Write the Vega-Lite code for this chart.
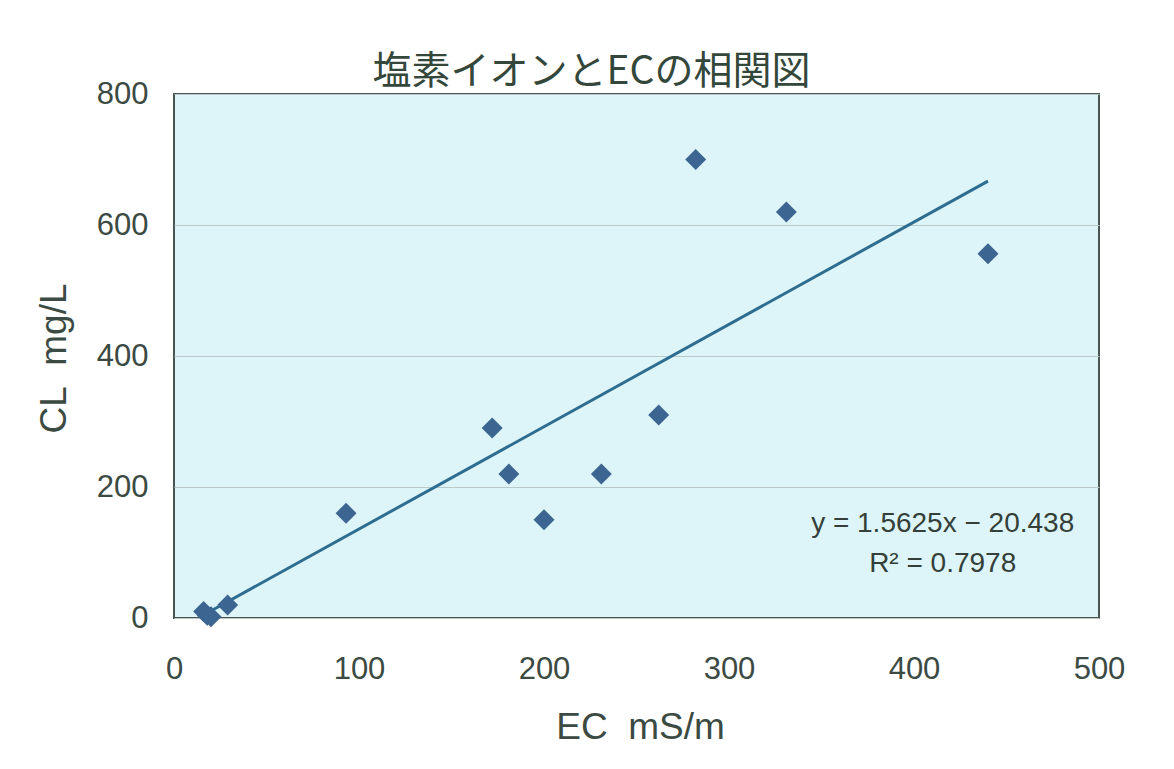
{
  "$schema": "https://vega.github.io/schema/vega-lite/v6.json",
  "autosize": "none",
  "width": 925,
  "height": 524,
  "padding": {"left": 174, "top": 94, "right": 75, "bottom": 151},
  "background": "#ffffff",
  "config": {
    "view": {"fill": "#ddf5f8", "stroke": "#4a5550", "strokeWidth": 2},
    "font": "Liberation Sans"
  },
  "title": {
    "text": "塩素イオンとECの相関図",
    "font": "Noto Sans CJK JP",
    "fontSize": 39,
    "fontWeight": "normal",
    "color": "#34473b",
    "anchor": "middle",
    "frame": "group",
    "dx": -45,
    "dy": 56,
    "offset": 3,
    "baseline": "bottom"
  },
  "layer": [
    {
      "data": {"values": [
        {"EC": 16, "CL": 4.56},
        {"EC": 440, "CL": 667.06}
      ]},
      "mark": {"type": "line", "color": "#2e6d90", "strokeWidth": 3},
      "encoding": {
        "x": {
          "field": "EC", "type": "quantitative",
          "scale": {"domain": [0, 500], "nice": false},
          "axis": {
            "title": "EC\u00a0\u00a0mS/m",
            "values": [0, 100, 200, 300, 400, 500],
            "grid": false,
            "ticks": false,
            "domain": false,
            "labelFont": "Liberation Sans",
            "labelFontSize": 31,
            "labelColor": "#3b4a42",
            "labelPadding": 36,
            "labelFlush": false,
            "labelOverlap": false,
            "titleFont": "Liberation Sans",
            "titleFontSize": 37,
            "titleFontWeight": "normal",
            "titleColor": "#3b4a42",
            "titleBaseline": "alphabetic",
            "titleY": 120,
            "titleX": 466
          }
        },
        "y": {
          "field": "CL", "type": "quantitative",
          "scale": {"domain": [0, 800], "nice": false},
          "axis": {
            "title": "CL\u00a0\u00a0mg/L",
            "values": [0, 200, 400, 600, 800],
            "grid": true,
            "gridColor": "#b9c9c9",
            "gridWidth": 1.2,
            "ticks": false,
            "domain": false,
            "labelFont": "Liberation Sans",
            "labelFontSize": 31,
            "labelColor": "#3b4a42",
            "labelPadding": 26,
            "labelFlush": false,
            "labelOverlap": false,
            "titleFont": "Liberation Sans",
            "titleFontSize": 37,
            "titleFontWeight": "normal",
            "titleColor": "#3b4a42",
            "titleBaseline": "alphabetic",
            "titleX": -109,
            "titleY": 264
          }
        }
      }
    },
    {
      "data": {"values": [
        {"EC": 16, "CL": 10},
        {"EC": 18, "CL": 4},
        {"EC": 20, "CL": 2},
        {"EC": 29, "CL": 20},
        {"EC": 93, "CL": 160},
        {"EC": 172, "CL": 290},
        {"EC": 181, "CL": 220},
        {"EC": 200, "CL": 150},
        {"EC": 231, "CL": 220},
        {"EC": 262, "CL": 310},
        {"EC": 282, "CL": 700},
        {"EC": 331, "CL": 620},
        {"EC": 440, "CL": 556}
      ]},
      "mark": {"type": "point", "shape": "diamond", "filled": true, "size": 440, "color": "#3d6592", "opacity": 1},
      "encoding": {
        "x": {"field": "EC", "type": "quantitative"},
        "y": {"field": "CL", "type": "quantitative"}
      }
    },
    {
      "data": {"values": [
        {"label": "y = 1.5625x − 20.438", "EC": 415.5, "CL": 143},
        {"label": "R² = 0.7978", "EC": 415.5, "CL": 82}
      ]},
      "mark": {"type": "text", "font": "Liberation Sans", "fontSize": 28, "color": "#333f38", "align": "center", "baseline": "middle"},
      "encoding": {
        "x": {"field": "EC", "type": "quantitative"},
        "y": {"field": "CL", "type": "quantitative"},
        "text": {"field": "label"}
      }
    }
  ]
}
